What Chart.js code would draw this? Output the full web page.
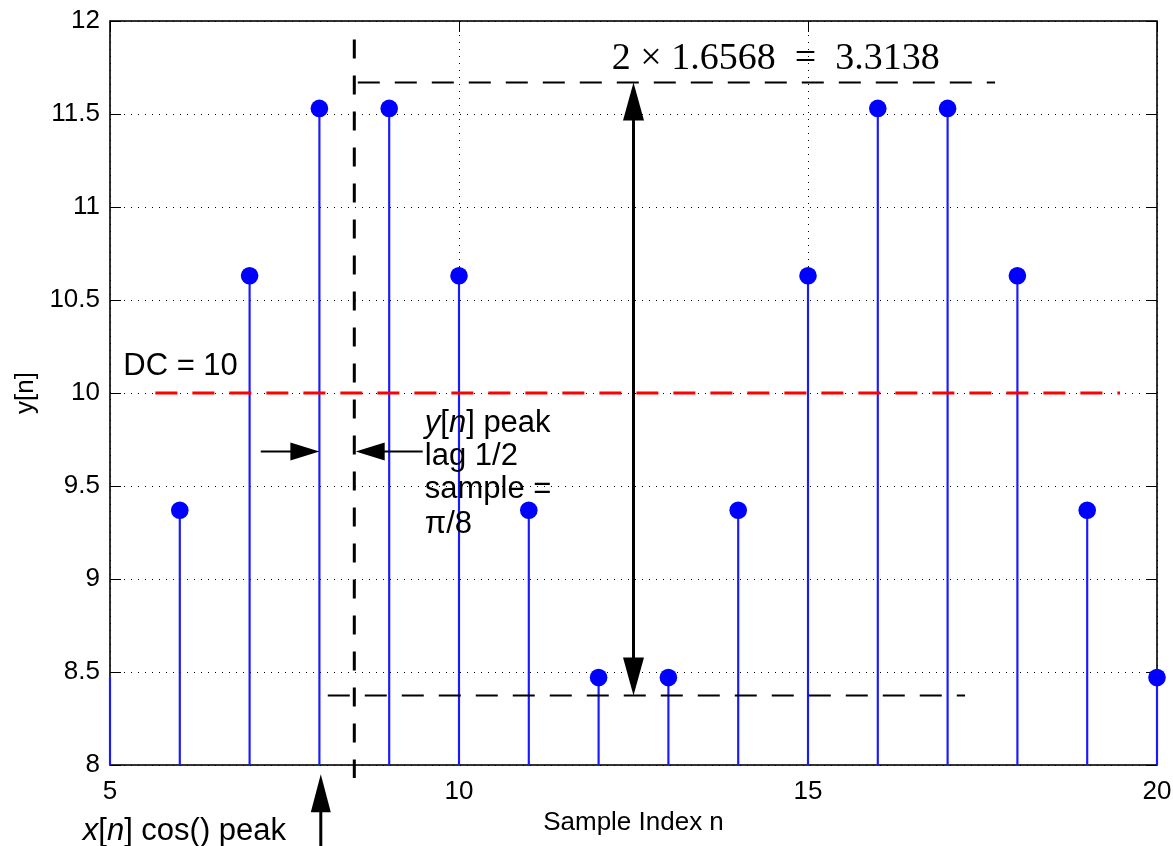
<!DOCTYPE html>
<html>
<head>
<meta charset="utf-8">
<script src="https://cdn.jsdelivr.net/npm/chart.js@4.4.1/dist/chart.umd.min.js"></script>
<style>
  html, body { margin: 0; padding: 0; background: #fff; }
  #wrap { width: 1173px; height: 846px; }
</style>
</head>
<body>
<div id="wrap"><canvas id="myChart"></canvas></div>
<script>
// samples
const sampleIndex = [5, 6, 7, 8, 9, 10, 11, 12, 13, 14, 15, 16, 17, 18, 19, 20];
const yValues = [8.47, 9.37, 10.63, 11.53, 11.53, 10.63, 9.37, 8.47, 8.47, 9.37, 10.63, 11.53, 11.53, 10.63, 9.37, 8.47];
const markerShown = [0, 1, 1, 1, 1, 1, 1, 1, 1, 1, 1, 1, 1, 1, 1, 1];

const xTickValues = [5, 10, 15, 20];
const xTickLabels = ["5", "10", "15", "20"];
const yTickValues = [8, 8.5, 9, 9.5, 10, 10.5, 11, 11.5, 12];
const yTickLabels = ["8", "8.5", "9", "9.5", "10", "10.5", "11", "11.5", "12"];

const SANS = "'Liberation Sans', Arial, Helvetica, sans-serif";
const SERIF = "'Liberation Serif', 'Times New Roman', serif";

function arrowHead(ctx, tipX, tipY, dx, dy, len, halfW) {
  const bx = tipX - dx * len, by = tipY - dy * len;
  ctx.beginPath();
  ctx.moveTo(tipX, tipY);
  ctx.lineTo(bx - dy * halfW, by + dx * halfW);
  ctx.lineTo(bx + dy * halfW, by - dx * halfW);
  ctx.closePath();
  ctx.fill();
}

// text made of plain / italic pieces
function richText(ctx, parts, x, y, size) {
  let cx = x;
  parts.forEach(([txt, it]) => {
    ctx.font = (it ? "italic " : "") + size + "px " + SANS;
    ctx.fillText(txt, cx, y);
    cx += ctx.measureText(txt).width;
  });
}

function line(ctx, x1, y1, x2, y2) {
  ctx.beginPath();
  ctx.moveTo(x1, y1);
  ctx.lineTo(x2, y2);
  ctx.stroke();
}

const frame = {
  id: "frame",
  beforeDatasetsDraw(chart) {
    const { ctx, chartArea: a, scales: { x, y } } = chart;
    ctx.save();
    ctx.strokeStyle = "#000";
    ctx.lineWidth = 1;
    // inward ticks
    xTickValues.forEach(v => {
      const p = Math.round(x.getPixelForValue(v)) + 0.5;
      line(ctx, p, a.bottom, p, a.bottom - 11);
      line(ctx, p, a.top, p, a.top + 11);
    });
    yTickValues.forEach(v => {
      const p = Math.round(y.getPixelForValue(v)) + 0.5;
      line(ctx, a.left, p, a.left + 11, p);
      line(ctx, a.right, p, a.right - 11, p);
    });
    ctx.lineWidth = 1.6;
    ctx.strokeRect(a.left, a.top, a.right - a.left, a.bottom - a.top);
    ctx.restore();
  }
};

const annotations = {
  id: "annotations",
  afterDatasetsDraw(chart) {
    const { ctx, scales: { x, y } } = chart;
    const px = v => x.getPixelForValue(v);
    const py = v => y.getPixelForValue(v);
    ctx.save();
    ctx.strokeStyle = "#000";
    ctx.fillStyle = "#000";
    ctx.lineCap = "butt";

    // DC level
    ctx.strokeStyle = "#ff0000";
    ctx.lineWidth = 3;
    ctx.setLineDash([22, 15]);
    line(ctx, px(5.65), py(10), px(19.47), py(10));

    // peak-to-peak guide lines
    ctx.strokeStyle = "#000";
    ctx.lineWidth = 2;
    ctx.setLineDash([22, 15]);
    line(ctx, px(8.55), py(11.67), px(17.68), py(11.67));
    line(ctx, px(8.12), py(8.373), px(17.25), py(8.373));

    // half-sample lag marker
    ctx.lineWidth = 3;
    ctx.setLineDash([19, 17]);
    line(ctx, px(8.5), py(11.9), px(8.5), py(7.93));
    ctx.setLineDash([]);

    // double arrow
    const ax = px(12.5), aTop = py(11.67), aBot = py(8.373);
    ctx.lineWidth = 3;
    line(ctx, ax, aTop + 30, ax, aBot - 30);
    arrowHead(ctx, ax, aTop, 0, -1, 38, 10.5);
    arrowHead(ctx, ax, aBot, 0, 1, 38, 10.5);

    // small lag arrows
    const ly = py(9.685);
    ctx.lineWidth = 2;
    line(ctx, px(7.16), ly, px(8) - 20, ly);
    arrowHead(ctx, px(8), ly, 1, 0, 29, 9);
    line(ctx, px(9.48), ly, px(8.52) + 20, ly);
    arrowHead(ctx, px(8.52), ly, -1, 0, 29, 9);

    // cos() peak arrow from below
    ctx.lineWidth = 3;
    const bx = px(8.02);
    line(ctx, bx, chart.height, bx, py(7.95) + 30);
    arrowHead(ctx, bx, py(7.95), 0, -1, 38, 10);

    // texts
    ctx.textBaseline = "alphabetic";
    ctx.textAlign = "left";
    ctx.font = "31px " + SANS;
    ctx.fillText("DC = 10", px(5.19), py(10.098));

    ctx.font = "38px " + SERIF;
    ctx.fillText("2 \u00d7 1.6568  =  3.3138", px(12.19), py(11.743));

    const tx = px(9.51), t0 = py(9.792);
    richText(ctx, [["y", true], ["[", false], ["n", true], ["] peak", false]], tx, t0, 31);
    richText(ctx, [["lag 1/2", false]], tx, t0 + 33, 31);
    richText(ctx, [["sample =", false]], tx, t0 + 66, 31);
    richText(ctx, [["\u03c0/8", false]], tx, t0 + 101, 31);

    richText(ctx, [["x", true], ["[", false], ["n", true], ["] cos() peak", false]], px(4.61), 840, 31);
    ctx.restore();
  }
};

const points = sampleIndex.map((n, i) => ({ x: n, y: yValues[i] }));
const stems = sampleIndex.map((n, i) => ({ x: n, y: [yTickValues[0], yValues[i]] }));

new Chart(document.getElementById("myChart"), {
  type: "scatter",
  data: {
    datasets: [
      {
        label: "markers",
        data: points,
        backgroundColor: "#0000ff",
        borderWidth: 0,
        pointRadius: markerShown.map(s => (s ? 8.8 : 0)),
        clip: false,
        order: 0
      },
      {
        type: "bar",
        label: "stems",
        data: stems,
        backgroundColor: "#1a1aff",
        barThickness: 1.5,
        clip: false,
        order: 1
      }
    ]
  },
  options: {
    responsive: true,
    maintainAspectRatio: false,
    animation: false,
    layout: { padding: { top: 21, right: 16, left: 0, bottom: 0 } },
    plugins: { legend: { display: false }, tooltip: { enabled: false } },
    scales: {
      x: {
        type: "linear",
        min: 5,
        max: 20,
        offset: false,
        afterBuildTicks: s => { s.ticks = xTickValues.map(v => ({ value: v })); },
        afterFit: s => { s.height = 81; s.paddingLeft = 0; s.paddingRight = 0; },
        grid: { offset: false, color: "#000", lineWidth: 1, drawTicks: false },
        border: { display: false, dash: [1, 6] },
        ticks: {
          padding: 11,
          color: "#000",
          font: { family: SANS, size: 26 },
          maxRotation: 0,
          callback: (v, i) => xTickLabels[i]
        },
        title: {
          display: true,
          text: "Sample Index n",
          color: "#000",
          font: { family: SANS, size: 26 },
          padding: { top: 0, bottom: 8 }
        }
      },
      y: {
        type: "linear",
        min: 8,
        max: 12,
        afterBuildTicks: s => { s.ticks = yTickValues.map(v => ({ value: v })); },
        afterFit: s => { s.width = 110; s.paddingTop = 0; s.paddingBottom = 0; },
        grid: { color: "#000", lineWidth: 1, drawTicks: false },
        border: { display: false, dash: [1, 6] },
        ticks: {
          padding: 10,
          color: "#000",
          font: { family: SANS, size: 26 },
          callback: (v, i) => yTickLabels[i]
        },
        title: {
          display: true,
          text: "y[n]",
          color: "#000",
          font: { family: SANS, size: 26 },
          padding: { top: 10, bottom: 0 }
        }
      }
    }
  },
  plugins: [frame, annotations]
});
</script>
</body>
</html>
